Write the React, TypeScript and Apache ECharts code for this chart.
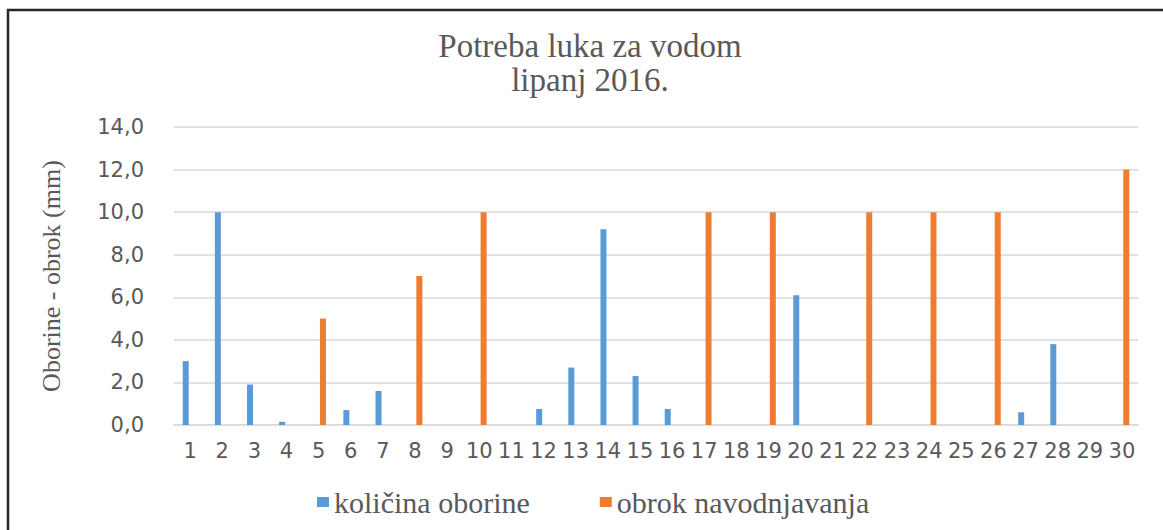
import React, { useEffect, useRef } from "react";
import * as echarts from "echarts";

const days: string[] = [
  "1", "2", "3", "4", "5", "6", "7", "8", "9", "10",
  "11", "12", "13", "14", "15", "16", "17", "18", "19", "20",
  "21", "22", "23", "24", "25", "26", "27", "28", "29", "30",
];

// količina oborine (mm)
const precipitation: number[] = [
  3.0, 10.0, 1.9, 0.15, 0, 0.7, 1.6, 0, 0, 0,
  0, 0.75, 2.7, 9.2, 2.3, 0.75, 0, 0, 0, 6.1,
  0, 0, 0, 0, 0, 0, 0.6, 3.8, 0, 0,
];

// obrok navodnjavanja (mm)
const irrigation: number[] = [
  0, 0, 0, 0, 5.0, 0, 0, 7.0, 0, 10.0,
  0, 0, 0, 0, 0, 0, 10.0, 0, 10.0, 0,
  0, 10.0, 0, 10.0, 0, 10.0, 0, 0, 0, 12.0,
];

const seriesNames: string[] = ["količina oborine", "obrok navodnjavanja"];
const titleLines: string[] = ["Potreba luka za vodom", "lipanj 2016."];
const yAxisName = "Oborine - obrok (mm)";

export default function App() {
  const ref = useRef<HTMLDivElement>(null);

  useEffect(() => {
    if (!ref.current) return;
    const chart = echarts.init(ref.current, undefined, { renderer: "svg" });
    const serif = "Liberation Serif";
    const sans = "DejaVu Sans";
    const titleStyle = {
      fontFamily: serif,
      fontSize: 33,
      fontWeight: "normal",
      color: "#595959",
      lineHeight: 34,
    };
    chart.setOption({
      animation: false,
      backgroundColor: "#ffffff",
      textStyle: { fontFamily: serif, fontWeight: "normal", fontStyle: "normal" },
      title: {
        text: titleLines[0],
        subtext: titleLines[1],
        left: 590,
        top: 29,
        padding: 0,
        itemGap: 0,
        textAlign: "center",
        textStyle: titleStyle,
        subtextStyle: titleStyle,
      },
      legend: {
        data: seriesNames,
        left: 312,
        top: 482,
        itemGap: 70,
        itemWidth: 12,
        itemHeight: 10,
        icon: "rect",
        textStyle: {
          fontFamily: serif,
          fontSize: 30,
          fontWeight: "normal",
          fontStyle: "normal",
          color: "#595959",
        },
      },
      grid: {
        left: 174,
        right: 25,
        top: 127,
        bottom: 105,
        containLabel: false,
      },
      xAxis: {
        type: "category",
        data: days,
        axisLine: { show: true, lineStyle: { color: "#d9d9d9", width: 1.5 } },
        axisTick: { show: false },
        axisLabel: {
          interval: 0,
          margin: 15,
          fontFamily: sans,
          fontSize: 21,
          color: "#595959",
        },
      },
      yAxis: {
        type: "value",
        min: 0,
        max: 14,
        interval: 2,
        name: yAxisName,
        nameLocation: "middle",
        nameGap: 110,
        nameTextStyle: {
          fontFamily: serif,
          fontSize: 26,
          fontWeight: "normal",
          fontStyle: "normal",
          color: "#595959",
        },
        axisLine: { show: false },
        axisTick: { show: false },
        splitLine: { lineStyle: { color: "#d9d9d9", width: 1.5 } },
        axisLabel: {
          margin: 30,
          fontFamily: sans,
          fontSize: 21,
          color: "#595959",
          formatter: (v: number) => v.toFixed(1).replace(".", ","),
        },
      },
      series: [
        {
          name: seriesNames[0],
          type: "bar",
          data: precipitation,
          barWidth: 6,
          barGap: "45%",
          itemStyle: { color: "#5b9bd5" },
        },
        {
          name: seriesNames[1],
          type: "bar",
          data: irrigation,
          barWidth: 6,
          barGap: "45%",
          itemStyle: { color: "#ed7d31" },
        },
      ],
      graphic: [
        {
          type: "rect",
          shape: { x: 8, y: 10, width: 1170, height: 540 },
          style: { fill: "none", stroke: "#262626", lineWidth: 2.5 },
          silent: true,
        },
      ],
    });
    return () => chart.dispose();
  }, []);

  return (
    <div
      ref={ref}
      style={{ position: "fixed", left: 0, top: 0, width: 1163, height: 530 }}
    />
  );
}
